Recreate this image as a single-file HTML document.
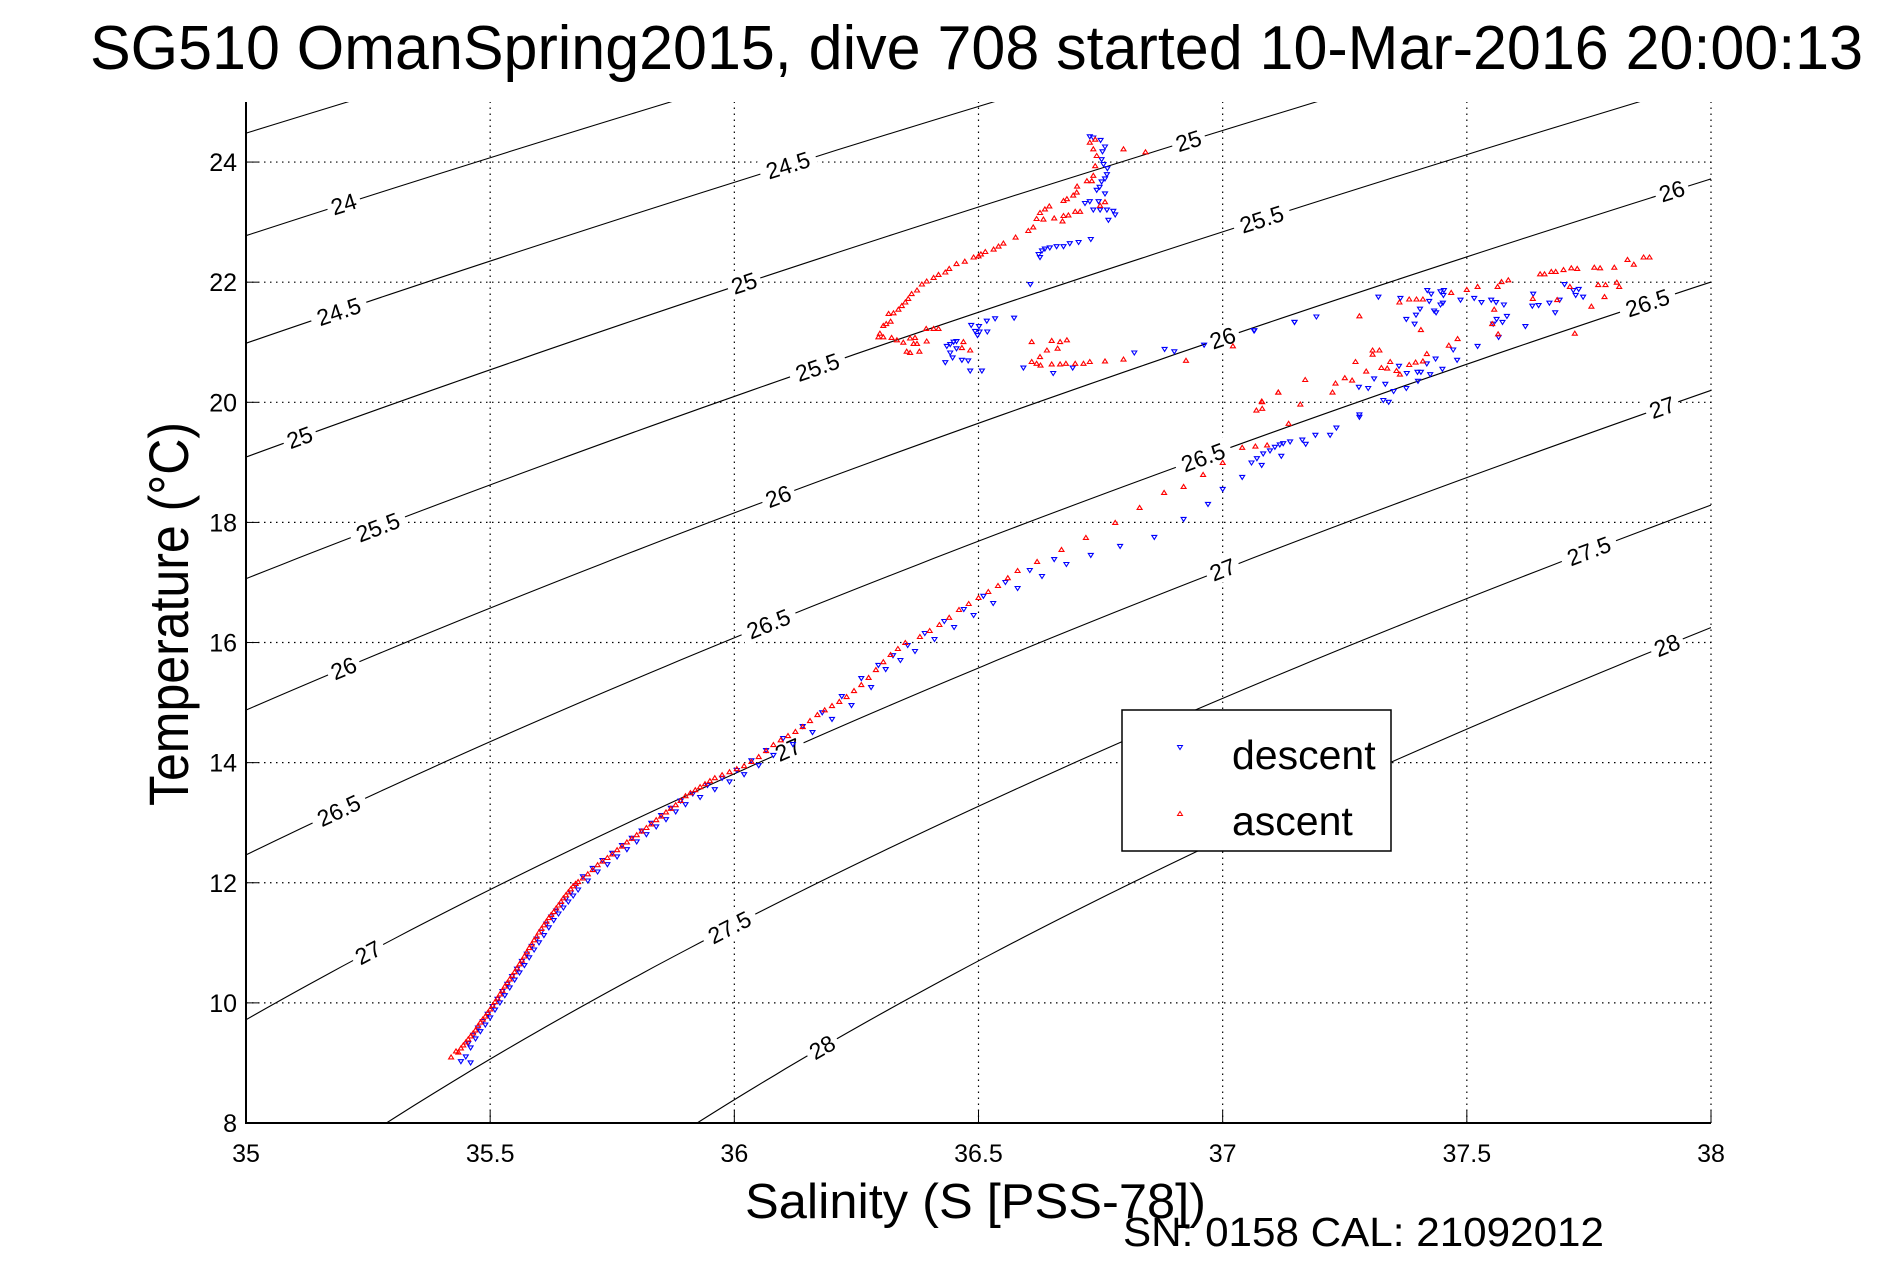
<!DOCTYPE html>
<html><head><meta charset="utf-8"><style>
html,body{margin:0;padding:0;background:#fff;}
svg{display:block;font-family:"Liberation Sans",Arial,sans-serif;}
</style></head><body>
<svg id="chart" width="1891" height="1262" viewBox="0 0 1891 1262" xmlns="http://www.w3.org/2000/svg">
<rect width="1891" height="1262" fill="#fff"/>
<defs><clipPath id="plotclip"><rect x="246" y="102" width="1465" height="1021"/></clipPath></defs>
<text x="90" y="69" font-size="62" textLength="1773" lengthAdjust="spacingAndGlyphs">SG510 OmanSpring2015, dive 708 started 10-Mar-2016 20:00:13</text>
<g id="grid"></g>
<g id="contours" clip-path="url(#plotclip)"></g>
<g id="clabels"></g>
<g id="marks" clip-path="url(#plotclip)"></g>
<g id="axes"></g>
<text x="745" y="1218" font-size="49" textLength="461" lengthAdjust="spacingAndGlyphs">Salinity (S [PSS-78])</text>
<text x="1123" y="1246" font-size="41" textLength="481" lengthAdjust="spacingAndGlyphs">SN: 0158  CAL: 21092012</text>
<text transform="translate(188,614) rotate(-90)" text-anchor="middle" font-size="56" textLength="384" lengthAdjust="spacingAndGlyphs">Temperature (°C)</text>
<g>
<rect x="1122" y="710" width="269" height="141" fill="#fff" stroke="#000" stroke-width="1.5"/>
<path d="M1177.5,745.5 L1182.5,745.5 L1180,749.5 Z" fill="none" stroke="#00f" stroke-width="1"/>
<text x="1232" y="769" font-size="41">descent</text>
<path d="M1177.5,815.5 L1182.5,815.5 L1180,811.5 Z" fill="none" stroke="#f00" stroke-width="1"/>
<text x="1232" y="835" font-size="41">ascent</text>
</g>
</svg>
<script>
const xTicks=[35,35.5,36,36.5,37,37.5,38];
const xTickLabels=["35","35.5","36","36.5","37","37.5","38"];
const yTicks=[8,10,12,14,16,18,20,22,24];
const yTickLabels=["8","10","12","14","16","18","20","22","24"];
const sigmaLevels=[23.5,24,24.5,25,25.5,26,26.5,27,27.5,28];
const labelSigma=[24,24.5,24.5,25,25,25,25.5,25.5,25.5,26,26,26,26,26.5,26.5,26.5,26.5,27,27,27,27,27.5,27.5,28,28];
const labelSal=[35.20,35.19,36.11,35.11,36.02,36.93,35.27,36.17,37.08,35.20,36.09,37.0,37.92,35.19,36.07,36.96,37.87,35.25,36.11,37.0,37.90,35.99,37.75,36.18,37.91];
const descentS=[35.44,35.46,35.45,35.46,35.47,35.48,35.49,35.50,35.51,35.52,35.53,35.54,35.55,35.56,35.57,35.58,35.59,35.60,35.61,35.62,35.63,35.64,35.65,35.66,35.67,35.68,35.70,35.72,35.74,35.76,35.78,35.80,35.82,35.84,35.86,35.88,35.90,35.93,35.96,35.99,36.02,36.05,36.08,36.12,36.16,36.20,36.24,36.28,36.31,36.34,36.37,36.41,36.45,36.49,36.53,36.58,36.63,36.68,36.73,36.79,36.86,36.92,36.97,37.0,37.04,37.08,37.12,37.17,37.22,37.28,37.34,37.40,37.45,37.48,
35.455,35.465,35.475,35.485,35.495,35.505,35.515,35.525,35.535,35.545,35.555,35.565,35.575,35.585,35.595,35.605,35.615,35.625,35.635,35.645,35.655,35.665,35.675,35.69,35.71,35.73,35.75,35.77,35.79,35.81,35.83,35.85,35.87,35.89,35.915,35.945,35.975,36.005,36.035,36.065,36.10,36.14,36.18,36.22,36.26,36.295,36.325,36.355,36.39,36.43,36.47,36.51,36.555,36.605,36.655,
37.065,37.147,37.192,37.319,37.364,37.419,37.427,37.446,37.453,37.452,37.451,37.446,37.423,37.487,37.515,37.530,37.550,37.560,37.576,37.404,37.396,37.376,37.393,37.433,37.437,37.561,37.554,37.573,37.582,37.620,37.636,37.634,37.647,37.669,37.681,37.690,37.700,37.718,37.723,37.738,37.729,37.565,37.522,37.472,37.436,37.418,37.406,37.399,37.361,37.377,37.425,37.333,37.310,37.350,37.376,37.298,37.279,37.329,37.280,37.233,37.190,37.163,37.138,37.124,37.117,37.107,37.097,37.083,37.070,37.059,
36.728,36.735,36.750,36.759,36.754,36.752,36.756,36.764,36.763,36.759,36.752,36.748,36.742,36.759,36.728,36.718,36.735,36.749,36.763,36.776,36.780,36.766,36.746,36.730,36.705,36.687,36.674,36.660,36.646,36.636,36.630,36.623,36.626,36.606,36.573,36.534,36.517,36.501,36.485,36.502,36.518,36.493,36.498,36.455,36.449,36.442,36.435,36.455,36.442,36.432,36.447,36.466,36.479,36.483,36.507,36.592,36.653,36.693,36.819,36.881,36.901,36.962,37.064,37.147];
const descentT=[9.02,9.0,9.1,9.25,9.40,9.52,9.63,9.75,9.88,10.0,10.12,10.25,10.38,10.50,10.62,10.75,10.88,11.0,11.12,11.25,11.37,11.48,11.58,11.68,11.78,11.88,12.03,12.18,12.30,12.43,12.55,12.68,12.80,12.93,13.05,13.18,13.30,13.42,13.55,13.68,13.80,13.95,14.12,14.30,14.50,14.72,14.95,15.25,15.55,15.70,15.85,16.05,16.25,16.45,16.65,16.90,17.10,17.30,17.45,17.60,17.75,18.05,18.30,18.55,18.75,18.95,19.10,19.30,19.45,19.75,20.0,20.35,20.55,20.70,
9.32,9.46,9.58,9.69,9.81,9.94,10.06,10.19,10.31,10.44,10.56,10.69,10.81,10.94,11.06,11.18,11.31,11.43,11.53,11.63,11.73,11.83,11.95,12.1,12.24,12.37,12.49,12.62,12.74,12.86,12.99,13.12,13.24,13.36,13.48,13.62,13.74,13.87,14.03,14.2,14.4,14.6,14.83,15.1,15.4,15.62,15.78,15.95,16.15,16.35,16.55,16.77,17.0,17.2,17.38,
21.19,21.33,21.42,21.75,21.73,21.86,21.80,21.84,21.86,21.78,21.65,21.62,21.68,21.70,21.73,21.66,21.70,21.66,21.62,21.55,21.45,21.38,21.30,21.52,21.49,21.38,21.30,21.33,21.43,21.26,21.80,21.60,21.61,21.65,21.49,21.70,21.96,21.86,21.78,21.75,21.88,21.08,20.93,20.87,20.72,20.64,20.50,20.50,20.60,20.48,20.46,20.30,20.39,20.18,20.23,20.23,20.25,20.03,19.79,19.57,19.45,19.37,19.34,19.31,19.29,19.25,19.19,19.14,19.06,18.99,
24.42,24.40,24.36,24.25,24.17,24.04,23.96,23.89,23.79,23.72,23.67,23.58,23.53,23.47,23.34,23.31,23.20,23.20,23.20,23.18,23.12,23.03,23.34,22.71,22.66,22.64,22.59,22.59,22.57,22.55,22.52,22.46,22.41,21.96,21.40,21.39,21.35,21.26,21.28,21.17,21.17,21.18,21.11,21.01,21.00,20.96,20.93,20.89,20.82,20.66,20.74,20.70,20.69,20.52,20.52,20.57,20.48,20.57,20.82,20.88,20.84,20.95,21.19,21.33];
const ascentS=[35.42,35.43,35.44,35.45,35.46,35.47,35.48,35.49,35.50,35.51,35.52,35.53,35.54,35.55,35.56,35.57,35.58,35.59,35.60,35.61,35.62,35.63,35.64,35.65,35.66,35.67,35.68,35.70,35.72,35.74,35.76,35.78,35.80,35.82,35.84,35.86,35.88,35.90,35.92,35.94,35.96,35.99,36.02,36.05,36.08,36.11,36.14,36.17,36.20,36.23,36.26,36.29,36.32,36.35,36.38,36.42,36.46,36.50,36.54,36.58,36.62,36.67,36.72,36.78,36.83,36.88,36.92,36.96,37.00,37.04,
35.435,35.445,35.455,35.465,35.475,35.485,35.495,35.505,35.515,35.525,35.535,35.545,35.555,35.565,35.575,35.585,35.595,35.605,35.615,35.625,35.635,35.645,35.655,35.665,35.675,35.69,35.71,35.73,35.75,35.77,35.79,35.81,35.83,35.85,35.87,35.89,35.91,35.93,35.95,35.975,36.005,36.035,36.065,36.095,36.125,36.155,36.185,36.215,36.245,36.275,36.305,36.335,36.40,36.44,36.48,36.52,36.56,
37.862,37.874,37.829,37.842,37.802,37.773,37.761,37.726,37.714,37.698,37.682,37.673,37.650,37.659,37.585,37.571,37.522,37.563,37.500,37.468,37.362,37.382,37.397,37.410,37.280,37.406,37.769,37.784,37.807,37.812,37.782,37.755,37.711,37.685,37.635,37.556,37.552,37.564,37.721,37.481,37.463,37.418,37.410,37.395,37.382,37.356,37.363,37.325,37.337,37.343,37.321,37.307,37.307,37.272,37.294,37.265,37.250,37.231,37.225,37.169,37.114,37.081,37.081,37.069,37.159,37.135,37.091,37.067,
36.728,36.739,36.735,36.742,36.739,36.735,36.732,36.722,36.701,36.694,36.681,36.674,36.702,36.708,36.698,36.684,36.674,36.759,36.749,36.797,36.842,36.645,36.636,36.626,36.619,36.633,36.655,36.672,36.612,36.602,36.576,36.551,36.541,36.531,36.514,36.505,36.500,36.490,36.472,36.455,36.440,36.432,36.418,36.408,36.394,36.384,36.374,36.363,36.356,36.350,36.343,36.336,36.326,36.316,36.320,36.311,36.305,36.298,36.295,36.305,36.322,36.333,36.346,36.360,36.370,36.393,36.408,36.418,36.394,36.353,36.360,36.379,36.374,36.367,36.469,36.483,36.466,36.609,36.650,36.667,36.681,36.662,36.640,36.626,36.609,36.619,36.627,36.650,36.667,36.679,36.698,36.715,36.728,36.759,36.797,36.925,37.021,37.114,37.080];
const ascentT=[9.10,9.2,9.25,9.35,9.45,9.55,9.68,9.78,9.90,10.02,10.15,10.28,10.40,10.52,10.65,10.78,10.92,11.05,11.18,11.30,11.42,11.52,11.63,11.75,11.85,11.95,12.02,12.15,12.30,12.42,12.55,12.68,12.80,12.92,13.05,13.18,13.30,13.45,13.55,13.65,13.75,13.85,13.95,14.10,14.30,14.45,14.60,14.80,14.95,15.10,15.30,15.55,15.80,16.00,16.10,16.30,16.55,16.75,16.95,17.20,17.35,17.55,17.75,18.00,18.25,18.50,18.60,18.80,19.00,19.25,
9.18,9.30,9.40,9.50,9.62,9.73,9.84,9.96,10.08,10.21,10.34,10.46,10.58,10.71,10.85,10.98,11.11,11.24,11.36,11.47,11.58,11.69,11.80,11.90,11.99,12.08,12.22,12.36,12.48,12.61,12.74,12.86,12.98,13.11,13.24,13.37,13.50,13.60,13.70,13.80,13.90,14.02,14.20,14.38,14.52,14.70,14.88,15.02,15.20,15.42,15.68,15.90,16.20,16.42,16.65,16.85,17.08,
22.42,22.42,22.38,22.30,22.25,22.24,22.25,22.23,22.24,22.21,22.18,22.18,22.14,22.14,22.04,22.01,21.93,21.93,21.88,21.83,21.67,21.72,21.72,21.72,21.44,21.21,21.96,21.96,22.00,21.93,21.76,21.60,21.93,21.71,21.73,21.55,21.31,21.14,21.15,21.06,20.95,20.81,20.69,20.67,20.63,20.53,20.47,20.58,20.57,20.68,20.87,20.87,20.80,20.68,20.52,20.37,20.41,20.32,20.17,20.38,20.17,20.01,19.90,19.87,19.97,19.65,19.29,19.27,
24.33,24.38,24.22,24.11,23.94,23.78,23.69,23.69,23.50,23.45,23.39,23.36,23.60,23.18,23.18,23.12,23.11,23.34,23.28,24.22,24.17,23.27,23.22,23.16,23.06,23.05,23.07,23.02,22.92,22.86,22.75,22.65,22.60,22.55,22.51,22.47,22.44,22.42,22.35,22.31,22.23,22.17,22.13,22.08,22.02,21.97,21.87,21.81,21.73,21.67,21.61,21.55,21.49,21.48,21.35,21.31,21.28,21.15,21.09,21.09,21.08,21.04,21.00,21.07,21.08,21.23,21.23,21.23,21.02,20.85,20.83,20.85,20.98,20.98,21.01,20.87,20.91,21.01,21.03,21.01,21.04,20.90,20.87,20.76,20.68,20.65,20.62,20.64,20.64,20.65,20.65,20.65,20.68,20.69,20.72,20.70,20.94,20.17,20.02];

const NS="http://www.w3.org/2000/svg";
const X0=246,X1=1711,Y0=1123,Y1=102,SMIN=35,SMAX=38,TMIN=8,TMAX=25;
function xs(s){return X0+(s-SMIN)/(SMAX-SMIN)*(X1-X0);}
function ys(t){return Y0-(t-TMIN)/(TMAX-TMIN)*(Y0-Y1);}
function mk(tag,attrs,parent){const e=document.createElementNS(NS,tag);for(const k in attrs)e.setAttribute(k,attrs[k]);parent.appendChild(e);return e;}
function rho(S,T){
 const rw=999.842594+6.793952e-2*T-9.095290e-3*T*T+1.001685e-4*T**3-1.120083e-6*T**4+6.536332e-9*T**5;
 return rw+S*(0.824493-4.0899e-3*T+7.6438e-5*T*T-8.2467e-7*T**3+5.3875e-9*T**4)+Math.pow(S,1.5)*(-5.72466e-3+1.0227e-4*T-1.6546e-6*T*T)+4.8314e-4*S*S;
}
function salAt(sig,T){let a=25,b=45;for(let i=0;i<50;i++){const m=(a+b)/2;if(rho(m,T)-1000<sig)a=m;else b=m;}return (a+b)/2;}
function tempAt(sig,S){let a=-5,b=40;for(let i=0;i<50;i++){const m=(a+b)/2;if(rho(S,m)-1000>sig)a=m;else b=m;}return (a+b)/2;}

const grid=document.getElementById('grid'),axes=document.getElementById('axes');
xTicks.forEach((v,i)=>{
 if(i>0){const g=mk('line',{x1:xs(v),x2:xs(v),y1:Y0,y2:Y1,stroke:'#000','stroke-width':1.2,'stroke-dasharray':'1.5,4.5'},grid);
 
 }
 const tk=mk('line',{x1:xs(v),x2:xs(v),y1:Y0,y2:Y0-12,stroke:'#000','stroke-width':1},axes);
 
 
 const t=mk('text',{x:xs(v),y:1162,'font-size':25,'text-anchor':'middle'},axes);
 
 
 t.textContent=xTickLabels[i];
});
yTicks.forEach((v,i)=>{
 if(i>0){const g=mk('line',{x1:X0,x2:X1,y1:ys(v),y2:ys(v),stroke:'#000','stroke-width':1.2,'stroke-dasharray':'1.5,4.5'},grid);
 
 }
 const tk=mk('line',{x1:X0,x2:X0+12,y1:ys(v),y2:ys(v),stroke:'#000','stroke-width':1},axes);
 
 
 const t=mk('text',{x:237,y:ys(v)+9,'font-size':25,'text-anchor':'end'},axes);
 
 
 t.textContent=yTickLabels[i];
});
const ax=mk('path',{d:`M${X0},${Y1} L${X0},${Y0} L${X1},${Y0}`,fill:'none',stroke:'#000','stroke-width':2},axes);



const cg=document.getElementById('contours');
sigmaLevels.forEach(sig=>{
 let d='';
 for(let T=5;T<=27.001;T+=0.1){const S=salAt(sig,T);d+=(d?'L':'M')+xs(S).toFixed(1)+','+ys(T).toFixed(1);}
 const p=mk('path',{d:d,fill:'none',stroke:'#000','stroke-width':1.1},cg);
 
 
});
const lg=document.getElementById('clabels');
labelSigma.forEach((sig,i)=>{
 const S=labelSal[i],T=tempAt(sig,S);
 const x=xs(S),y=ys(T);
 const xa=xs(S-0.02),ya=ys(tempAt(sig,S-0.02)),xb=xs(S+0.02),yb=ys(tempAt(sig,S+0.02));
 const ang=Math.atan2(yb-ya,xb-xa)*180/Math.PI;
 const g=mk('g',{transform:`translate(${x.toFixed(1)},${y.toFixed(1)}) rotate(${ang.toFixed(1)})`},lg);
 
 
 const txt=String(sig);const w=txt.length*12+10;
 mk('rect',{x:-w/2,y:-12,width:w,height:24,fill:'#fff'},g);
 const t=mk('text',{x:0,y:8,'font-size':23,'text-anchor':'middle'},g);
 t.textContent=txt;
});
const mg=document.getElementById('marks');
descentS.forEach((s,i)=>{
 const x=xs(s),y=ys(descentT[i]);
 const p=mk('path',{d:`M${(x-2.5).toFixed(1)},${(y-2).toFixed(1)} L${(x+2.5).toFixed(1)},${(y-2).toFixed(1)} L${x.toFixed(1)},${(y+2).toFixed(1)} Z`,fill:'none',stroke:'#00f','stroke-width':1.1},mg);
 
 
});
ascentS.forEach((s,i)=>{
 const x=xs(s),y=ys(ascentT[i]);
 const p=mk('path',{d:`M${(x-2.5).toFixed(1)},${(y+2).toFixed(1)} L${(x+2.5).toFixed(1)},${(y+2).toFixed(1)} L${x.toFixed(1)},${(y-2).toFixed(1)} Z`,fill:'none',stroke:'#f00','stroke-width':1.1},mg);
 
 
});
</script>
</body></html>
